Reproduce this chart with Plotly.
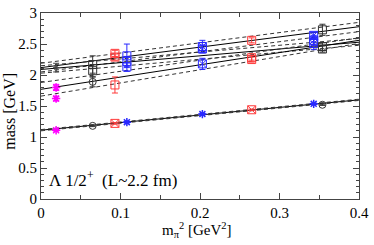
import plotly.graph_objects as go

# ---------------- data ----------------
# ensemble pion masses squared [GeV^2]
x_magenta = 0.019
x_black_l = 0.065
x_red_l = 0.093
x_blue_l = 0.108
x_blue_m = 0.203
x_red_h = 0.265
x_blue_h = 0.343
x_black_h = 0.354

# ground states (mass, error)
ground_magenta = [1.11, 0.015]
ground_black_l = [1.18, 0.012]
ground_red_l = [1.22, 0.012]
ground_blue_l = [1.24, 0.012]
ground_blue_m = [1.37, 0.010]
ground_red_h = [1.44, 0.010]
ground_blue_h = [1.535, 0.010]
ground_black_h = [1.52, 0.010]

# excited states (masses, errors)
exc_magenta = [1.62, 1.80, 2.12]
exc_magenta_err = [0.04, 0.05, 0.07]
exc_black_l = [1.89, 2.07, 2.17]
exc_black_l_err = [0.08, 0.10, 0.14]
exc_red_l = [1.84, 2.29, 2.35]
exc_red_l_err = [0.13, 0.05, 0.05]
exc_blue_l = [2.13, 2.22, 2.31]
exc_blue_l_err = [0.07, 0.08, 0.19]
exc_blue_m = [2.18, 2.42, 2.46]
exc_blue_m_err = [0.09, 0.06, 0.10]
exc_red_h = [2.25, 2.28, 2.56]
exc_red_h_err = [0.04, 0.04, 0.04]
exc_blue_h = [2.51, 2.56, 2.64]
exc_blue_h_err = [0.10, 0.08, 0.05]
exc_black_h = [2.42, 2.46, 2.73]
exc_black_h_err = [0.05, 0.06, 0.09]

# chiral fits: values at x = 0 and x = 0.4 (central, upper, lower)
fit_x = [0.0, 0.4]
fit_ground = [[1.11, 1.60], [1.12, 1.61], [1.10, 1.59]]
fit_a = [[2.12, 2.78], [2.19, 2.85], [2.05, 2.70]]
fit_b = [[2.09, 2.53], [2.15, 2.59], [2.03, 2.48]]
fit_c = [[1.77, 2.56], [1.88, 2.60], [1.66, 2.51]]

# axis ticks
x_ticks = [0, 0.1, 0.2, 0.3, 0.4]
x_ticklabels = ["0", "0.1", "0.2", "0.3", "0.4"]
y_ticks = [0, 0.5, 1, 1.5, 2, 2.5, 3]
y_ticklabels = ["0", "0.5", "1", "1.5", "2", "2.5", "3"]

# ---------------- figure ----------------
MAG = "#ff00ff"
BLK = "#333333"
RED = "#ff3a3a"
BLU = "#2828ff"

fig = go.Figure()

# fit lines
for fit in [fit_ground, fit_a, fit_b, fit_c]:
    fig.add_trace(go.Scatter(x=fit_x, y=fit[0], mode="lines",
                             line=dict(color="black", width=1), hoverinfo="skip"))
    for band in fit[1:]:
        fig.add_trace(go.Scatter(x=fit_x, y=band, mode="lines",
                                 line=dict(color="#333333", width=1, dash="4px,3px"),
                                 hoverinfo="skip"))


def pts(x, ys, errs, color, symbol, size=7, lw=1):
    fig.add_trace(go.Scatter(
        x=[x] * len(ys), y=ys, mode="markers",
        marker=dict(symbol=symbol, size=size, color=color,
                    line=dict(color=color, width=lw)),
        error_y=dict(type="data", array=errs, visible=True,
                     color=color, thickness=1, width=3),
    ))


# ground states
pts(x_magenta, [ground_magenta[0]], [ground_magenta[1]], MAG, "asterisk-open", 7, 1.5)
pts(x_black_l, [ground_black_l[0]], [ground_black_l[1]], BLK, "circle-open", 7)
pts(x_red_l, [ground_red_l[0]], [ground_red_l[1]], RED, "square-x-open", 8)
pts(x_blue_l, [ground_blue_l[0]], [ground_blue_l[1]], BLU, "asterisk-open", 7, 1.5)
pts(x_blue_m, [ground_blue_m[0]], [ground_blue_m[1]], BLU, "asterisk-open", 7, 1.5)
pts(x_red_h, [ground_red_h[0]], [ground_red_h[1]], RED, "square-x-open", 8)
pts(x_blue_h, [ground_blue_h[0]], [ground_blue_h[1]], BLU, "asterisk-open", 7, 1.5)
pts(x_black_h, [ground_black_h[0]], [ground_black_h[1]], BLK, "circle-open", 7)

# excited states
pts(x_magenta, exc_magenta[:2], exc_magenta_err[:2], MAG, "asterisk-open", 7, 1.5)
pts(x_magenta, exc_magenta[2:], exc_magenta_err[2:], "#444444", "asterisk-open", 5, 1)
pts(x_black_l, exc_black_l[:1], exc_black_l_err[:1], BLK, "circle-open", 7)
pts(x_black_l, exc_black_l[1:], exc_black_l_err[1:], BLK, "square-open", 8)
pts(x_red_l, exc_red_l, exc_red_l_err, RED, "square-open", 8)
pts(x_blue_l, exc_blue_l, exc_blue_l_err, BLU, "square-open", 8)
pts(x_blue_m, exc_blue_m, exc_blue_m_err, BLU, "square-x-open", 8)
pts(x_red_h, exc_red_h, exc_red_h_err, RED, "square-open", 8)
pts(x_blue_h, exc_blue_h, exc_blue_h_err, BLU, "square-x-open", 8)
pts(x_black_h, exc_black_h, exc_black_h_err, BLK, "square-open", 8)

SERIF = "Liberation Serif"

fig.add_annotation(x=0.008, y=0.33, xref="x", yref="y", xanchor="left", yanchor="middle",
                   text="Λ 1/2<sup>+</sup>  (L~2.2 fm)", showarrow=False,
                   font=dict(family=SERIF, size=17, color="black"))
fig.add_annotation(x=0.492, y=-0.165, xref="paper", yref="paper", xanchor="center", yanchor="middle",
                   text="m<sub>π</sub><sup>2</sup> [GeV<sup>2</sup>]", showarrow=False,
                   font=dict(family=SERIF, size=15, color="black"))
fig.add_annotation(x=-0.1, y=0.47, xref="paper", yref="paper", xanchor="center", yanchor="middle",
                   text="mass [GeV]", textangle=-90, showarrow=False,
                   font=dict(family=SERIF, size=16, color="black"))

axis_common = dict(
    showgrid=False, zeroline=False, showline=True, linecolor="#444444", linewidth=1,
    mirror="allticks", ticks="inside", ticklen=6, tickwidth=1, tickcolor="#444444",
    tickfont=dict(family=SERIF, size=15, color="black"),
)

fig.update_xaxes(range=[0, 0.4], tickvals=x_ticks, ticktext=x_ticklabels,
                 minor=dict(dtick=0.05, ticks="inside", ticklen=4, tickcolor="#444444"),
                 **axis_common)
fig.update_yaxes(range=[0, 3.001], tickvals=y_ticks, ticktext=y_ticklabels,
                 ticklabeloverflow="allow",
                 minor=dict(dtick=0.1, ticks="inside", ticklen=3, tickcolor="#444444"),
                 **axis_common)

fig.update_layout(
    width=374, height=245,
    margin=dict(l=41, r=10, t=5, b=46),
    paper_bgcolor="white", plot_bgcolor="white",
    showlegend=False,
)

fig.write_html("out.html", config={"displayModeBar": False},
               post_script="document.body.style.margin='0';document.body.style.overflow='hidden';")
